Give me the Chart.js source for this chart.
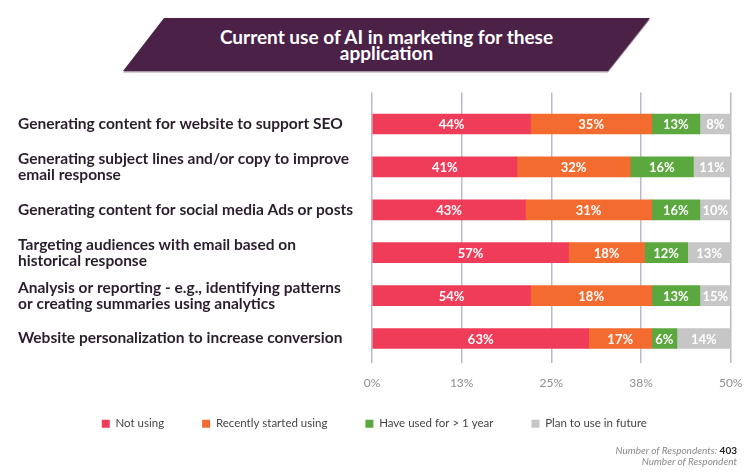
<!DOCTYPE html>
<html>
<head>
<meta charset="utf-8">
<script src="https://cdn.jsdelivr.net/npm/chart.js@4.4.1/dist/chart.umd.min.js"></script>
<style>
  body { margin: 0; background: #fff; font-family: Lato, sans-serif; }
  #wrap { position: relative; width: 750px; height: 472px; }
  #banner-shadow, #banner {
    position: absolute; left: 123px; top: 18px; width: 527px; height: 53px;
    clip-path: polygon(41px 0, 527px 0, 485px 53px, 0 53px);
  }
  #banner-shadow { top: 19.5px; background: #a895aa; }
  #banner {
    background: #4b2148; color: #fff; text-align: center;
    font-weight: bold; font-size: 19px; line-height: 16px;
    box-sizing: border-box; padding-top: 11px;
  }
  #note {
    position: absolute; right: 13px; top: 445px; text-align: right;
    font-size: 10px; font-style: italic; color: #8a8a8a; line-height: 11px;
  }
  #note b { font-style: normal; color: #222; }
</style>
</head>
<body>
<div id="wrap">
  <canvas id="chartUsoIA" width="750" height="472"></canvas>
  <div id="banner-shadow"></div>
  <div id="banner">Current use of AI in marketing for these<br>application</div>
  <div id="note">Number of Respondents: <b>403</b><br>Number of Respondent</div>
</div>
<script>
// categorias (uma linha por array)
const categorias = [
  ['Generating content for website to support SEO'],
  ['Generating subject lines and/or copy to improve', 'email response'],
  ['Generating content for social media Ads or posts'],
  ['Targeting audiences with email based on', 'historical response'],
  ['Analysis or reporting - e.g., identifying patterns', 'or creating summaries using analytics'],
  ['Website personalization to increase conversion']
];

const notUsing = [22.1, 20.2, 21.4, 27.4, 22.1, 30.2];
const recentlyStarted = [16.9, 15.8, 17.6, 10.6, 16.9, 8.8];
const usedOverYear = [6.7, 8.8, 6.7, 6.0, 6.7, 3.5];
const planFuture = [4.3, 5.2, 4.3, 6.0, 4.3, 7.5];

// textos impressos dentro das barras
const notUsingText = ['44%', '41%', '43%', '57%', '54%', '63%'];
const recentlyStartedText = ['35%', '32%', '31%', '18%', '18%', '17%'];
const usedOverYearText = ['13%', '16%', '16%', '12%', '13%', '6%'];
const planFutureText = ['8%', '11%', '10%', '13%', '15%', '14%'];

// eixo x
const xTicks = [0, 12.5, 25, 37.5, 50];

const fonte = 'Lato';

// escreve os percentuais no meio de cada segmento
const rotulosBarras = {
  id: 'rotulosBarras',
  afterDatasetsDraw(chart) {
    const ctx = chart.ctx;
    ctx.save();
    ctx.font = 'bold 13px ' + fonte;
    ctx.fillStyle = '#ffffff';
    ctx.textAlign = 'center';
    ctx.textBaseline = 'middle';
    chart.data.datasets.forEach((ds, i) => {
      chart.getDatasetMeta(i).data.forEach((bar, j) => {
        const p = bar.getProps(['x', 'base', 'y'], true);
        ctx.fillText(ds.valueLabels[j], (p.x + p.base) / 2, p.y + 1);
      });
    });
    ctx.restore();
  }
};

// sobe a legenda para ficar colada nos rótulos do eixo x
const subirLegenda = {
  id: 'subirLegenda',
  afterLayout(chart) {
    chart.legend.top -= 23.4;
    chart.legend.bottom -= 23.4;
  }
};

const gridColor = '#bcb9c9';

new Chart(document.getElementById('chartUsoIA'), {
  type: 'bar',
  data: {
    labels: categorias,
    datasets: [
      { label: 'Not using', data: notUsing, valueLabels: notUsingText, backgroundColor: '#ef3c59' },
      { label: 'Recently started using', data: recentlyStarted, valueLabels: recentlyStartedText, backgroundColor: '#f36b2f' },
      { label: 'Have used for > 1 year', data: usedOverYear, valueLabels: usedOverYearText, backgroundColor: '#5aa83e' },
      { label: 'Plan to use in future', data: planFuture, valueLabels: planFutureText, backgroundColor: '#c6c6c6' }
    ]
  },
  options: {
    indexAxis: 'y',
    responsive: false,
    animation: false,
    barThickness: 20,
    layout: { padding: { top: 92.6, left: 18, right: 19.3, bottom: 9.2 } },
    scales: {
      x: {
        stacked: true,
        min: 0,
        max: 50,
        afterBuildTicks: s => { s.ticks = xTicks.map(v => ({ value: v })); },
        afterFit: s => { s.paddingRight = 0; },
        border: { display: false },
        grid: { color: gridColor, lineWidth: 1.5, tickLength: 3 },
        ticks: {
          autoSkip: false,
          maxRotation: 0,
          padding: 13,
          color: '#8e8e8e',
          font: { family: fonte, size: 12 },
          callback: v => Math.round(v) + '%'
        }
      },
      x2: {
        position: 'top',
        min: 0,
        max: 50,
        afterBuildTicks: s => { s.ticks = xTicks.map(v => ({ value: v })); },
        border: { display: false },
        grid: { color: gridColor, lineWidth: 1.5, tickLength: 10, drawOnChartArea: false },
        ticks: { display: false }
      },
      y: {
        stacked: true,
        afterFit: s => { s.width = 354; },
        border: { display: false },
        grid: { display: false, drawTicks: false },
        ticks: {
          crossAlign: 'far',
          padding: 0,
          color: '#2a1e2d',
          font: { family: fonte, size: 15.5, weight: 'bold', lineHeight: 1.03 }
        }
      }
    },
    plugins: {
      tooltip: { enabled: false },
      legend: {
        position: 'bottom',
        labels: {
          boxWidth: 8,
          boxHeight: 8,
          padding: 38,
          color: '#444',
          font: { family: fonte, size: 11.5 }
        }
      }
    }
  },
  plugins: [rotulosBarras, subirLegenda]
});
</script>
</body>
</html>
